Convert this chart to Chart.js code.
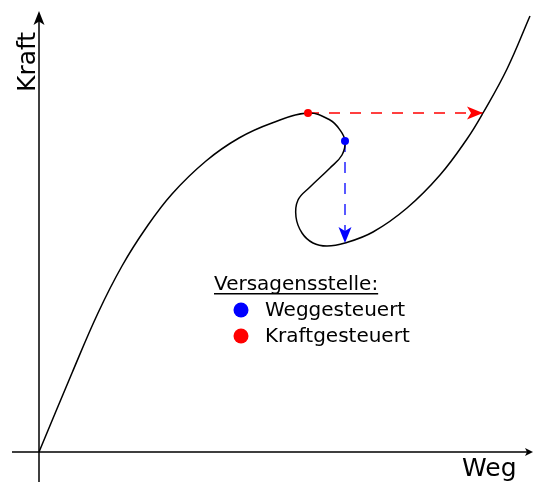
<!DOCTYPE html>
<html>
<head>
<meta charset="utf-8">
<script src="https://cdn.jsdelivr.net/npm/chart.js@4/dist/chart.umd.min.js"></script>
<style>
  html, body { margin: 0; padding: 0; background: #fff; }
  #wrap { position: relative; width: 534px; height: 482px; }
</style>
</head>
<body>
<div id="wrap"><canvas id="chart"></canvas></div>
<script>
// Kraft-Weg-Kurve (schematisch), Ursprung = Achsenkreuz
const curveWeg   = [0, 33, 59, 83, 107, 133, 167, 200, 233, 269, 291, 301, 306, 303, 291, 271, 259, 257, 263, 274, 288, 306, 334, 368, 401, 428, 444, 468, 491];
const curveKraft = [0, 79, 139, 186, 224, 258, 291, 314, 329, 339, 332, 322, 311, 297, 284, 265, 252, 235, 219, 209, 206, 209, 220, 244, 277, 313, 339, 383, 436];

// Versagensstellen und Sprung danach
const kraftPoint = { x: 269, y: 339 };   // kraftgesteuert
const kraftJump  = { x: 444, y: 339 };
const wegPoint   = { x: 306, y: 311 };   // weggesteuert
const wegJump    = { x: 306, y: 209 };

const legendTitle = 'Versagensstelle:';
const legendLabels = ['Weggesteuert', 'Kraftgesteuert'];
const legendColors = ['#0000ff', '#ff0000'];
const axisLabels = { x: 'Weg', y: 'Kraft' };

const FONT = '"DejaVu Sans", Verdana, sans-serif';

const curve = curveWeg.map((x, i) => ({ x, y: curveKraft[i] }));

function arrowHead(ctx, x, y, angle, len, half, color) {
  ctx.save();
  ctx.translate(x, y);
  ctx.rotate(angle);
  ctx.fillStyle = color;
  ctx.beginPath();
  ctx.moveTo(0, 0);
  ctx.lineTo(-len, -half);
  ctx.lineTo(-len * 0.75, 0);
  ctx.lineTo(-len, half);
  ctx.closePath();
  ctx.fill();
  ctx.restore();
}

const sketchPlugin = {
  id: 'sketch',
  beforeDatasetsDraw(chart) {
    const { ctx, scales: { x, y } } = chart;
    const x0 = x.getPixelForValue(0), y0 = y.getPixelForValue(0);
    ctx.save();
    ctx.strokeStyle = '#000';
    ctx.lineWidth = 1.5;
    ctx.beginPath();
    // x-Achse
    ctx.moveTo(x.left + 12, y0);
    ctx.lineTo(x.right - 3, y0);
    // y-Achse
    ctx.moveTo(x0, y.bottom);
    ctx.lineTo(x0, y.top + 14);
    ctx.stroke();
    arrowHead(ctx, x.right - 1, y0, 0, 8, 4, '#000');
    arrowHead(ctx, x0, y.top + 11, -Math.PI / 2, 14, 5.5, '#000');
    ctx.restore();
  },
  afterDatasetsDraw(chart) {
    const { ctx } = chart;
    // Pfeilspitzen an den gestrichelten Linien
    chart.data.datasets.forEach((ds, i) => {
      if (!ds.arrow) return;
      const pts = chart.getDatasetMeta(i).data;
      const a = pts[pts.length - 2], b = pts[pts.length - 1];
      arrowHead(ctx, b.x, b.y, Math.atan2(b.y - a.y, b.x - a.x), 16, 6.5, ds.borderColor);
    });

    ctx.save();
    ctx.fillStyle = '#000';
    ctx.textBaseline = 'alphabetic';
    // Achsenbeschriftungen
    ctx.font = '25px ' + FONT;
    ctx.fillText(axisLabels.x, 462, 476);
    ctx.save();
    ctx.translate(35, 92);
    ctx.rotate(-Math.PI / 2);
    ctx.fillText(axisLabels.y, 0, 0);
    ctx.restore();

    // Legende
    ctx.font = '20px ' + FONT;
    ctx.fillText(legendTitle, 214, 290);
    const w = ctx.measureText(legendTitle).width;
    ctx.fillRect(214, 293, w, 1.5);
    legendLabels.forEach((lab, i) => {
      const cy = 310 + i * 26;
      ctx.fillStyle = legendColors[i];
      ctx.beginPath();
      ctx.arc(241, cy, 7.5, 0, Math.PI * 2);
      ctx.fill();
      ctx.fillStyle = '#000';
      ctx.fillText(lab, 265, cy + 6);
    });
    ctx.restore();
  }
};

new Chart(document.getElementById('chart'), {
  type: 'line',
  data: {
    datasets: [
      {
        label: 'Kraftgesteuert',
        data: [kraftPoint],
        showLine: false,
        backgroundColor: '#ff0000',
        borderWidth: 0,
        pointRadius: 4,
        order: 0
      },
      {
        label: 'Weggesteuert',
        data: [wegPoint],
        showLine: false,
        backgroundColor: '#0000ff',
        borderWidth: 0,
        pointRadius: 4,
        order: 0
      },
      {
        label: 'Kurve',
        data: curve,
        borderColor: '#000',
        borderWidth: 1.5,
        tension: 0.4,
        pointRadius: 0,
        fill: false,
        order: 2
      },
      {
        label: 'Sprung Kraft',
        data: [kraftPoint, kraftJump],
        arrow: true,
        borderColor: '#ff0000',
        borderWidth: 1.3,
        borderDash: [11, 10],
        pointRadius: 0,
        tension: 0,
        order: 3
      },
      {
        label: 'Sprung Weg',
        data: [wegPoint, wegJump],
        arrow: true,
        borderColor: '#0000ff',
        borderWidth: 1.3,
        borderDash: [11, 10],
        pointRadius: 0,
        tension: 0,
        order: 3
      }
    ]
  },
  options: {
    responsive: true,
    maintainAspectRatio: false,
    animation: false,
    layout: { padding: 0, autoPadding: false },
    elements: { line: { capBezierPoints: false } },
    plugins: { legend: { display: false }, tooltip: { enabled: false } },
    scales: {
      x: { type: 'linear', min: -39, max: 495, display: false },
      y: { type: 'linear', min: -30, max: 452, display: false }
    }
  },
  plugins: [sketchPlugin]
});
</script>
</body>
</html>
